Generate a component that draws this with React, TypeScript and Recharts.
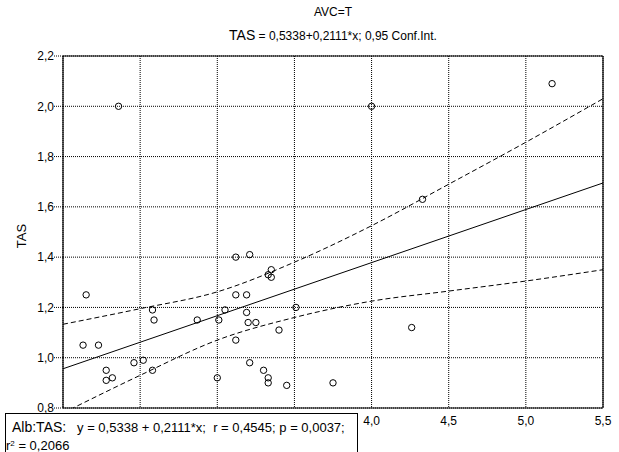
import React from 'react';
import { ComposedChart, XAxis, YAxis, CartesianGrid, Scatter, Line } from 'recharts';

const majorX = [2.0, 2.5, 3.0, 3.5, 4.0, 4.5, 5.0, 5.5];
const labeledX = [4.0, 4.5, 5.0, 5.5];
const minorX = [2.0, 2.1, 2.2, 2.3, 2.4, 2.5, 2.6, 2.7, 2.8, 2.9, 3.0, 3.1, 3.2, 3.3, 3.4, 3.5, 3.6, 3.7, 3.8, 3.9, 4.0, 4.1, 4.2, 4.3, 4.4, 4.5, 4.6, 4.7, 4.8, 4.9, 5.0, 5.1, 5.2, 5.3, 5.4, 5.5];
const majorY = [0.8, 1.0, 1.2, 1.4, 1.6, 1.8, 2.0, 2.2];
const minorY = [0.8, 0.9, 1.0, 1.1, 1.2, 1.3, 1.4, 1.5, 1.6, 1.7, 1.8, 1.9, 2.0, 2.1, 2.2];

const albValues = [2.36, 4.0, 5.17, 4.33, 4.26, 2.15, 2.13, 2.23, 2.28, 2.28, 2.32, 2.46, 2.52, 2.58, 2.58, 2.59, 2.87, 3.01, 3.0, 3.05, 3.12, 3.21, 3.12, 3.19, 3.19, 3.2, 3.25, 3.12, 3.21, 3.3, 3.33, 3.33, 3.4, 3.45, 3.51, 3.75, 3.33, 3.35, 3.35];
const tasValues = [2.0, 2.0, 2.09, 1.63, 1.12, 1.25, 1.05, 1.05, 0.95, 0.91, 0.92, 0.98, 0.99, 0.95, 1.19, 1.15, 1.15, 1.15, 0.92, 1.19, 1.4, 1.41, 1.25, 1.25, 1.18, 1.14, 1.14, 1.07, 0.98, 0.95, 0.92, 0.9, 1.11, 0.89, 1.2, 0.9, 1.33, 1.35, 1.32];

const fitX = [2.0, 5.5];
const fitY = [0.956, 1.695];

const bandX = [2.0, 2.5, 3.0, 3.5, 4.0, 4.5, 5.0, 5.5];
const upperY = [1.133, 1.195, 1.262, 1.38, 1.525, 1.69, 1.857, 2.03];
const lowerY = [0.78, 0.93, 1.07, 1.16, 1.225, 1.265, 1.305, 1.35];

const scatterData = albValues.map((x, i) => ({ x, y: tasValues[i] }));
const fitData = fitX.map((x, i) => ({ x, y: fitY[i] }));
const upperData = bandX.map((x, i) => ({ x, y: upperY[i] }));
const lowerData = bandX.map((x, i) => ({ x, y: lowerY[i] }));

const fmt = (v: number) => v.toFixed(1).replace('.', ',');
const FONT = '"Liberation Sans", Arial, sans-serif';
const tickStyle = { fontSize: 12, fill: '#000', fontFamily: FONT };

const Dot = (props: any) => (
  <circle cx={props.cx} cy={props.cy} r={3.2} fill="none" stroke="#000" strokeWidth={1} />
);

const XTick = (props: any) => {
  const v = props.payload?.value;
  if (!labeledX.some((l) => Math.abs(l - v) < 1e-6)) return <g />;
  return (
    <text x={props.x} y={props.y} dy="0.71em" textAnchor="middle" fontSize={12} fill="#000" fontFamily={FONT}>
      {fmt(v)}
    </text>
  );
};

export default function App() {
  return (
    <div style={{ position: 'absolute', left: 0, top: 0, width: 619, height: 452, overflow: 'hidden', background: '#fff', fontFamily: FONT }}>
      <ComposedChart width={619} height={452} margin={{ top: 56, right: 16, bottom: 14, left: 23 }}>
        <CartesianGrid stroke="#000" strokeDasharray="1 1" strokeWidth={1} />
        <XAxis type="number" dataKey="x" domain={[2.0, 5.5]} ticks={majorX} interval={0} allowDataOverflow
          tickLine={false} axisLine={{ stroke: '#000', strokeWidth: 1.2 }} tick={<XTick />} height={30} />
        <XAxis xAxisId="xm" type="number" dataKey="x" domain={[2.0, 5.5]} ticks={minorX} interval={0} allowDataOverflow
          orientation="bottom" mirror tick={false} tickSize={4} tickLine={{ stroke: '#000' }} axisLine={false} />
        <XAxis xAxisId="xt" type="number" dataKey="x" domain={[2.0, 5.5]} ticks={minorX} interval={0} allowDataOverflow
          orientation="top" mirror tick={false} tickSize={4} tickLine={{ stroke: '#000' }} axisLine={{ stroke: '#000', strokeWidth: 1.2 }} />
        <YAxis type="number" domain={[0.8, 2.2]} ticks={majorY} interval={0} allowDataOverflow width={40}
          tickFormatter={fmt} tickSize={9} tickMargin={0} tickLine={{ stroke: '#000', strokeDasharray: '1 1' }}
          axisLine={{ stroke: '#000', strokeWidth: 1.2 }} tick={tickStyle} />
        <YAxis yAxisId="ym" type="number" domain={[0.8, 2.2]} ticks={minorY} interval={0} allowDataOverflow
          orientation="left" mirror tick={false} tickSize={4} tickLine={{ stroke: '#000' }} axisLine={false} />
        <YAxis yAxisId="yr" type="number" domain={[0.8, 2.2]} ticks={minorY} interval={0} allowDataOverflow
          orientation="right" mirror tick={false} tickSize={4} tickLine={{ stroke: '#000' }} axisLine={{ stroke: '#000', strokeWidth: 1.2 }} />
        <Line data={upperData} dataKey="y" type="monotone" stroke="#000" strokeWidth={1} strokeDasharray="5 3" dot={false} activeDot={false} isAnimationActive={false} />
        <Line data={lowerData} dataKey="y" type="monotone" stroke="#000" strokeWidth={1} strokeDasharray="5 3" dot={false} activeDot={false} isAnimationActive={false} />
        <Line data={fitData} dataKey="y" type="linear" stroke="#000" strokeWidth={1} dot={false} activeDot={false} isAnimationActive={false} />
        <Scatter data={scatterData} dataKey="y" shape={Dot} isAnimationActive={false} />
      </ComposedChart>

      <div style={{ position: 'absolute', left: 0, width: 666, top: 4, textAlign: 'center', fontSize: 12, lineHeight: '16px', color: '#000' }}>AVC=T</div>
      <div style={{ position: 'absolute', left: 0, width: 666, top: 27, textAlign: 'center', fontSize: 12, lineHeight: '16px', color: '#000', whiteSpace: 'pre' }}>
        <span style={{ fontSize: 14 }}>TAS</span> = 0,5338+0,2111*x; 0,95 Conf.Int.
      </div>
      <div style={{ position: 'absolute', left: 22, top: 236, transform: 'translate(-50%, -50%) rotate(-90deg)', fontSize: 13, lineHeight: '16px', color: '#000' }}>TAS</div>

      <div style={{ position: 'absolute', left: 5, top: 413, width: 351, height: 60, border: '1px solid #000', background: '#fff', color: '#000' }}>
        <div style={{ position: 'absolute', left: 6, top: 5, fontSize: 13, lineHeight: '16px', whiteSpace: 'pre' }}>
          <span style={{ fontSize: 14 }}>Alb:TAS:</span>{'   y = 0,5338 + 0,2111*x;  r = 0,4545; p = 0,0037;'}
        </div>
        <div style={{ position: 'absolute', left: 0, top: 24, fontSize: 13, lineHeight: '16px', whiteSpace: 'pre' }}>
          r<sup style={{ fontSize: 8, verticalAlign: 'top', position: 'relative', top: -2 }}>2</sup> = 0,2066
        </div>
      </div>
    </div>
  );
}
